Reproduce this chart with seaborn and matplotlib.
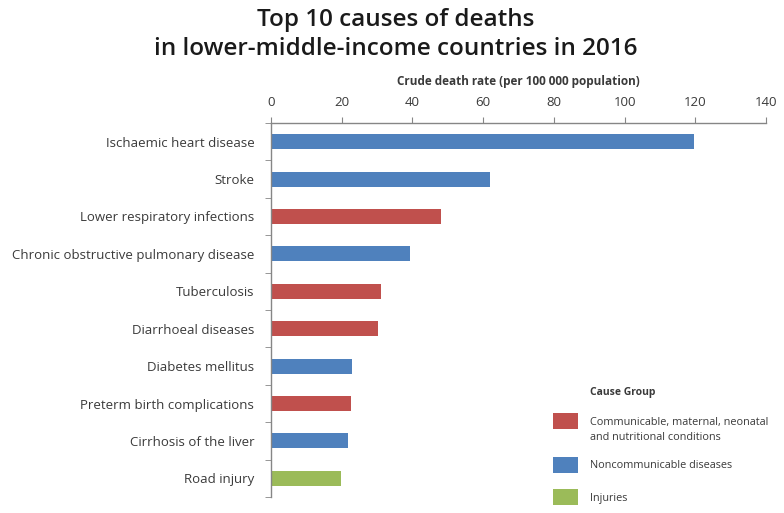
import matplotlib
matplotlib.use("Agg")
import matplotlib.pyplot as plt
from matplotlib.patches import Rectangle
import numpy as np
import pandas as pd
import seaborn as sns

# dados
causes = ["Ischaemic heart disease", "Stroke", "Lower respiratory infections",
          "Chronic obstructive pulmonary disease", "Tuberculosis", "Diarrhoeal diseases",
          "Diabetes mellitus", "Preterm birth complications", "Cirrhosis of the liver",
          "Road injury"]
rates = [119.6, 61.8, 48.2, 39.2, 31.0, 30.3, 23.0, 22.7, 21.8, 19.7]
groups = ["NCD", "NCD", "CMN", "NCD", "CMN", "CMN", "NCD", "CMN", "NCD", "INJ"]

group_names = ["CMN", "NCD", "INJ"]
group_labels = ["Communicable, maternal, neonatal\nand nutritional conditions",
                "Noncommunicable diseases", "Injuries"]
group_colors = ["#C0504D", "#4F81BD", "#9BBB59"]

df = pd.DataFrame({"Cause": causes, "Rate": rates, "Group": groups})

W, H = 784, 513
sns.set_style("white")
plt.rcParams["font.family"] = ["Open Sans", "DejaVu Sans"]
text_col = "#3a3a3a"

fig = plt.figure(figsize=(W / 100, H / 100), dpi=100)
ax = fig.add_axes([271 / W, 1 - 497 / H, (766 - 271) / W, (497 - 123) / H])

sns.barplot(data=df, y="Cause", x="Rate", hue="Group", dodge=False,
            palette=dict(zip(group_names, group_colors)), order=causes,
            hue_order=group_names, width=0.4, legend=False, ax=ax,
            edgecolor="none", saturation=1)

ax.set_xlim(0, 140)
ax.set_ylim(9.5, -0.5)
ax.xaxis.tick_top()
ax.xaxis.set_label_position("top")
ax.set_xticks(np.arange(0, 141, 20))
ax.set_xlabel("Crude death rate (per 100 000 population)", fontsize=8.5,
              fontweight="bold", color=text_col, labelpad=8)
ax.set_ylabel("")

# marcas entre categorias
ax.set_yticks(np.arange(-0.5, 10, 1), minor=True)
ax.tick_params(axis="y", which="major", length=0, pad=12, labelsize=9.5, labelcolor=text_col)
ax.tick_params(axis="y", which="minor", length=4, color="#868686", left=True)
ax.tick_params(axis="x", which="major", length=4, color="#868686", top=True,
               labelsize=9.5, labelcolor=text_col, pad=6)

for s in ["right", "bottom"]:
    ax.spines[s].set_visible(False)
for s in ["left", "top"]:
    ax.spines[s].set_color("#868686")
    ax.spines[s].set_linewidth(1)

fig.suptitle("Top 10 causes of deaths\nin lower-middle-income countries in 2016",
             x=0.505, y=0.985, fontsize=17.5, fontweight="semibold", color="#1a1a1a",
             linespacing=1.3)

# legenda montada a mao (o quadrado fica alinhado com a primeira linha do texto)
fig.text(590 / W, 1 - 393 / H, "Cause Group", fontsize=7.5, fontweight="bold",
         color=text_col, va="center", ha="left")
leg_rows = [421, 465, 497]
for y, lab, col in zip(leg_rows, group_labels, group_colors):
    fig.add_artist(Rectangle((553 / W, 1 - (y + 8) / H), 25 / W, 16 / H,
                             transform=fig.transFigure, facecolor=col, edgecolor="none"))
    lines = lab.split("\n")
    for i, line in enumerate(lines):
        fig.text(590 / W, 1 - (y + 1 + 15 * i) / H, line, fontsize=7.8,
                 color=text_col, va="center", ha="left")

fig.savefig("out.png", dpi=100)
